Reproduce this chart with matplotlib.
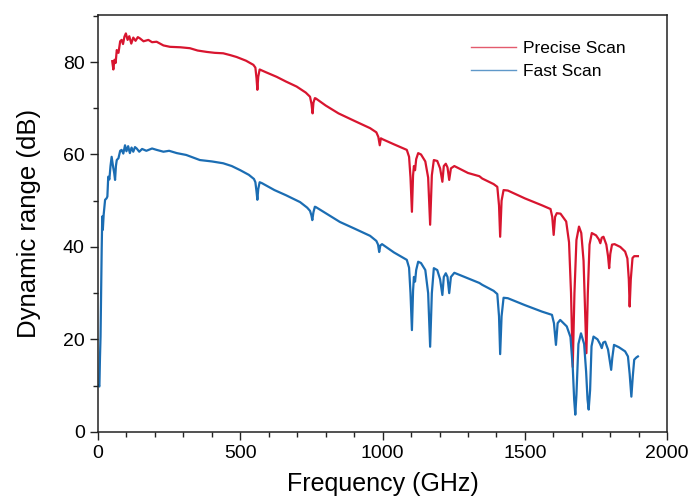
import matplotlib.pyplot as plt
from matplotlib.ticker import MultipleLocator

plt.rcParams['font.family'] = ['Liberation Sans', 'DejaVu Sans']

# Precise scan (red): frequency in GHz, dynamic range in dB
precise_freq = [50, 54, 58, 62, 66, 72, 78, 83, 88, 93, 98, 104, 110, 117, 124, 132,
                140, 148, 160, 177, 190, 206, 230, 253, 290, 323, 350, 382, 410, 440,
                465, 487, 520, 546, 553, 557, 560, 563, 568, 590, 628, 660, 698, 730,
                745, 750, 754, 757, 762, 766, 800, 845, 900, 956, 978, 985, 990, 994,
                1000, 1040, 1085, 1093, 1098, 1103, 1107, 1110, 1114, 1118, 1125, 1135,
                1150, 1160, 1167, 1173, 1180, 1192, 1202, 1210, 1215, 1222, 1228, 1234,
                1240, 1252, 1300, 1340, 1350, 1390, 1403, 1409, 1413, 1418, 1425, 1440,
                1500, 1560, 1590, 1596, 1601, 1606, 1612, 1625, 1645, 1655, 1662, 1668,
                1674, 1681, 1690, 1698, 1706, 1712, 1716, 1721, 1727, 1735, 1750, 1760,
                1765, 1770, 1776, 1786, 1792, 1796, 1800, 1806, 1815, 1835, 1852, 1860,
                1865, 1868, 1872, 1878, 1884, 1897]
precise_db = [80.2, 78.4, 80.5, 79.8, 82.6, 82.0, 84.5, 84.8, 83.9, 85.5, 86.2, 84.8,
              85.6, 84.0, 85.3, 84.6, 85.4, 85.1, 84.5, 84.8, 84.3, 84.4, 83.6, 83.3,
              83.2, 83.0, 82.5, 82.2, 82.0, 81.9, 81.5, 81.1, 80.3, 79.4, 78.8, 76.5,
              74.0, 76.8, 78.4, 77.8, 76.8, 75.8, 74.7, 73.4, 72.5, 71.0, 68.9, 71.2,
              72.2, 72.1, 70.6, 68.9, 67.3, 65.7, 64.8, 63.8, 62.0, 63.5, 63.3, 62.2,
              61.0, 59.5, 55.0, 47.6, 55.5, 57.5, 56.6, 59.0, 60.3, 60.0, 58.5, 55.0,
              44.8, 55.5, 58.8, 58.6, 57.0, 54.1, 57.5, 58.0, 57.2, 54.5, 57.0, 57.5,
              56.0, 55.3, 54.8, 53.6, 53.0, 49.0, 42.2, 50.0, 52.3, 52.2, 50.5, 49.0,
              48.2, 46.5, 42.6, 46.5, 47.3, 47.2, 45.5, 41.0, 30.0, 14.0, 30.0, 41.5,
              44.4, 43.0, 37.0, 25.0, 17.0, 30.0, 40.5, 43.0, 42.5, 41.6, 40.8, 42.0,
              42.2, 40.5, 38.0, 35.4, 38.5, 40.5, 40.6, 40.0, 39.0, 37.5, 33.0, 27.1,
              33.0, 37.6, 38.0, 38.0]

# Fast scan (blue)
fast_freq = [3, 5, 7, 9, 11, 13, 15, 17, 20, 25, 30, 33, 36, 40, 44, 48, 53, 57, 60,
             63, 66, 72, 78, 83, 89, 95, 100, 106, 112, 118, 124, 130, 136, 145, 155,
             170, 190, 206, 230, 250, 277, 310, 358, 400, 440, 470, 500, 530, 548, 553,
             557, 560, 563, 568, 576, 620, 660, 710, 735, 745, 750, 753, 757, 762, 766,
             800, 850, 900, 956, 978, 984, 988, 992, 998, 1040, 1085, 1093, 1098, 1103,
             1107, 1110, 1114, 1118, 1125, 1135, 1150, 1160, 1167, 1173, 1180, 1192,
             1202, 1210, 1215, 1222, 1228, 1234, 1240, 1252, 1300, 1340, 1350, 1390,
             1403, 1409, 1413, 1418, 1425, 1440, 1500, 1560, 1595, 1602, 1609, 1615,
             1624, 1647, 1660, 1668, 1673, 1677, 1681, 1688, 1697, 1708, 1715, 1720,
             1724, 1729, 1734, 1741, 1755, 1764, 1770, 1775, 1782, 1792, 1799, 1803,
             1807, 1813, 1830, 1852, 1862, 1868, 1874, 1879, 1884, 1892, 1897]
fast_db = [10.0, 9.8, 16.0, 20.6, 30.0, 39.4, 46.6, 43.7, 47.0, 50.2, 50.5, 50.9, 55.2,
           54.6, 57.5, 59.5, 57.4, 56.0, 54.5, 57.5, 58.8, 59.2, 60.8, 61.0, 60.2, 62.0,
           60.7, 61.8, 60.3, 61.5, 60.6, 61.6, 61.3, 60.6, 61.2, 60.8, 61.3, 61.0, 60.6,
           60.8, 60.3, 59.9, 58.8, 58.5, 58.1, 57.5, 56.6, 55.6, 54.7, 54.0, 52.0, 50.2,
           52.5, 54.0, 53.8, 52.3, 51.2, 49.7, 48.5, 47.8, 46.8, 45.8, 47.5, 48.7, 48.6,
           47.3, 45.4, 44.0, 42.4, 41.3, 40.5, 38.9, 40.3, 40.6, 38.8, 37.2, 35.5, 30.0,
           22.0, 30.5, 33.5, 32.5, 35.0, 36.8, 36.5, 35.0, 30.0, 18.4, 30.0, 35.4, 35.0,
           33.0, 29.6, 33.5, 34.3, 33.5, 30.0, 33.5, 34.4, 33.2, 32.2, 31.8, 30.5, 29.8,
           25.0, 16.8, 25.0, 29.0, 28.9, 27.4, 26.0, 25.3, 23.5, 18.8, 23.5, 24.2, 22.8,
           20.5, 14.0, 7.0, 3.7, 8.0, 19.0, 21.3, 19.0, 13.0, 7.0, 4.8, 9.0, 18.5, 20.6,
           20.0, 19.0, 18.1, 19.3, 19.5, 17.8, 15.0, 13.4, 16.0, 18.8, 18.3, 17.4, 16.3,
           12.5, 7.6, 12.0, 15.6, 16.1, 16.3]

fig = plt.figure(figsize=(6.9, 4.98), dpi=100)
ax = fig.add_axes([0.142, 0.133, 0.825, 0.837])

ax.plot(precise_freq, precise_db, color='#d8152f', lw=1.6, label='Precise Scan')
ax.plot(fast_freq, fast_db, color='#1b6db3', lw=1.6, label='Fast Scan')

ax.set_xlim(0, 2000)
ax.set_ylim(0, 90.2)
ax.xaxis.set_major_locator(MultipleLocator(500))
ax.xaxis.set_minor_locator(MultipleLocator(100))
ax.yaxis.set_major_locator(MultipleLocator(20))
ax.yaxis.set_minor_locator(MultipleLocator(10))
ax.tick_params(which='both', direction='out', width=1.0, labelsize=14, color='#222222')
ax.tick_params(which='major', length=6)
ax.tick_params(which='minor', length=3.5)
for s in ax.spines.values():
    s.set_linewidth(1.1)
    s.set_color('#222222')

ax.set_xlabel('Frequency (GHz)', fontsize=18, labelpad=7)
ax.set_ylabel('Dynamic range (dB)', fontsize=18.5, labelpad=16)

leg = ax.legend(loc='upper right', bbox_to_anchor=(0.955, 0.975), frameon=False,
                fontsize=12.5, handlelength=2.6, handletextpad=0.4, labelspacing=0.45)
for h in leg.get_lines():
    h.set_linewidth(1.0)
    h.set_alpha(0.7)

fig.savefig('out.png', dpi=100)
